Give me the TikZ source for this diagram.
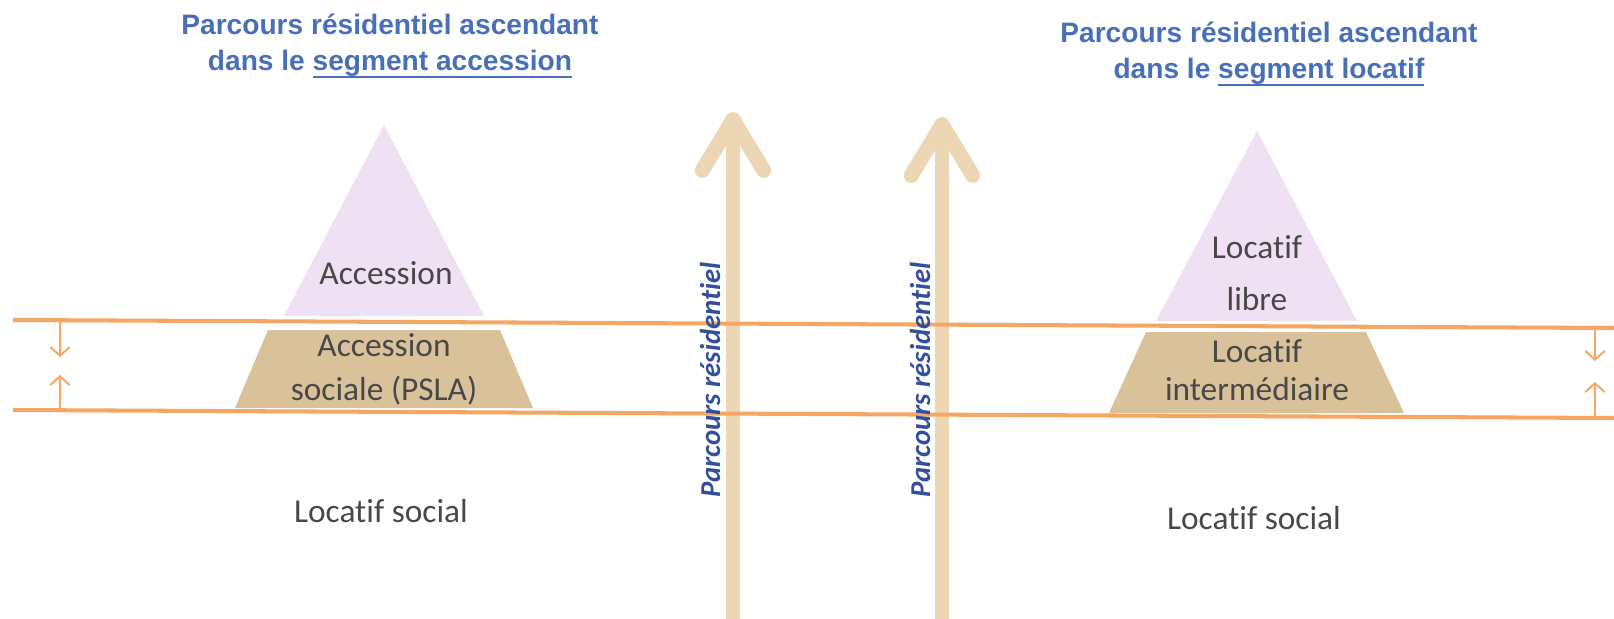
\documentclass[tikz,border=0pt]{standalone}
\usepackage{fontspec}
\setmainfont{Carlito}[Ligatures=NoCommon]
\newfontfamily\titlefam{Liberation Sans}
\usepackage{tikz}
\usetikzlibrary{arrows.meta}
\definecolor{titleblue}{RGB}{72,112,185}
\definecolor{pathblue}{RGB}{52,78,158}
\definecolor{lblgray}{RGB}{72,72,72}
\definecolor{bandorange}{RGB}{245,166,98}
\definecolor{tanfill}{RGB}{217,194,154}
\definecolor{lilacfill}{RGB}{239,224,244}
\definecolor{arrowtan}{RGB}{236,214,180}
\newcommand{\ulseg}[1]{\setbox0\hbox{#1}\rlap{\rule[-4.2pt]{\wd0}{1.1pt}}\box0}

\begin{document}
\begin{tikzpicture}[
  x=0.02cm, y=-0.02cm,
  title/.style={font=\titlefam\bfseries\fontsize{16}{20.4}\selectfont,text=titleblue,align=center},
  lbl/.style={font=\fontsize{19}{24}\selectfont,text=lblgray,align=center},
  vlbl/.style={font=\bfseries\itshape\fontsize{16.4}{20}\selectfont,text=pathblue,rotate=90},
  band/.style={draw=bandorange,line width=2.3pt},
  gauge/.style={draw=bandorange,line width=1.1pt,-{Straight Barb[length=5pt,width=11pt]}},
  bigarrow/.style={draw=arrowtan,line width=8.5pt,-{Straight Barb[length=29pt,width=35pt,round]}}
]
  \useasboundingbox (0,0) rectangle (1614,619);

  % pyramide accession
  \fill[lilacfill] (384,125) -- (484,316) -- (284,316) -- cycle;
  \fill[tanfill] (268,330) -- (500,330) -- (533,408) -- (235,408) -- cycle;
  % pyramide locatif
  \fill[lilacfill] (1257,131) -- (1357,321) -- (1156,321) -- cycle;
  \fill[tanfill] (1146,332) -- (1366,332) -- (1404,413) -- (1109,413) -- cycle;

  \coordinate (upA-s) at (733,619);
  \coordinate (upA-e) at (733,112);
  \coordinate (upB-s) at (942,619);
  \coordinate (upB-e) at (942,117);
  \draw[bigarrow] (upA-s) -- (upA-e);
  \draw[bigarrow] (upB-s) -- (upB-e);

  \coordinate (topW) at (13,320);
  \coordinate (topE) at (1614,328);
  \coordinate (botW) at (13,410);
  \coordinate (botE) at (1614,418);
  \draw[band] (topW) -- (topE);
  \draw[band] (botW) -- (botE);

  \coordinate (gA1) at (60,320);
  \coordinate (gA2) at (60,357);
  \coordinate (gA3) at (60,410);
  \coordinate (gA4) at (60,375);
  \coordinate (gB1) at (1595,328);
  \coordinate (gB2) at (1595,361);
  \coordinate (gB3) at (1595,418);
  \coordinate (gB4) at (1595,382);
  \draw[gauge] (gA1) -- (gA2);
  \draw[gauge] (gA3) -- (gA4);
  \draw[gauge] (gB1) -- (gB2);
  \draw[gauge] (gB3) -- (gB4);

  \node[title] (titleA) at (390,46) {Parcours résidentiel ascendant\\dans le \ulseg{segment accession}};
  \node[title] (titleB) at (1269,54) {Parcours résidentiel ascendant\\dans le \ulseg{segment locatif}};

  \node[lbl] (acc)     at (386,273) {Accession};
  \node[lbl] (accsoc)  at (384,369) {Accession\\[1pt]sociale (PSLA)};
  \node[lbl] (locsocA) at (381,511) {Locatif social};
  \node[lbl] (loclib)  at (1257,273) {Locatif\\[6pt]libre};
  \node[lbl] (locint)  at (1257,370) {Locatif\\[-2pt]intermédiaire};
  \node[lbl] (locsocB) at (1254,518) {Locatif social};

  \node[vlbl] (pathA) at (710,380) {Parcours résidentiel};
  \node[vlbl] (pathB) at (920,380) {Parcours résidentiel};
\end{tikzpicture}
\end{document}
